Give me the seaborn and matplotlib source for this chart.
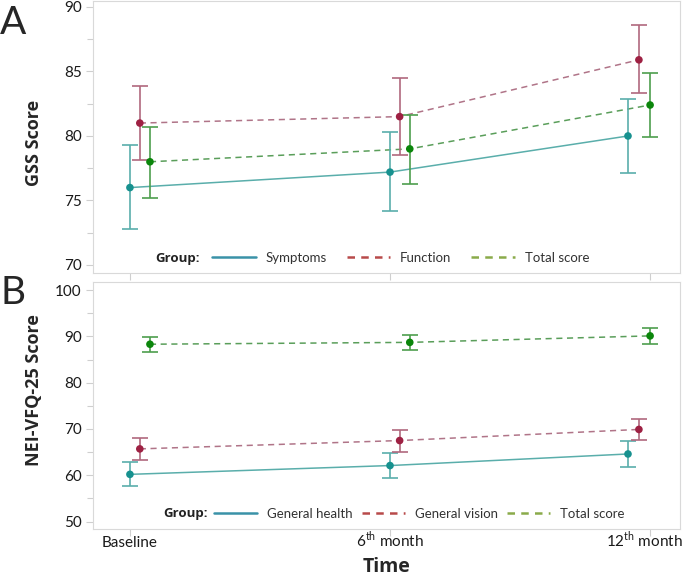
import numpy as np
import pandas as pd
import matplotlib
matplotlib.use("Agg")
import matplotlib.pyplot as plt
import matplotlib.transforms as mtransforms
import seaborn as sns
from matplotlib.lines import Line2D
from matplotlib.ticker import MultipleLocator

sns.set_style("white")
plt.rcParams['font.family'] = ['Lato', 'DejaVu Sans']
plt.rcParams['mathtext.fontset'] = 'custom'
plt.rcParams['mathtext.rm'] = 'Lato'

# 数据
times = ["Baseline", "6$^{\\mathrm{th}}$ month", "12$^{\\mathrm{th}}$ month"]

gss_groups = ["Symptoms", "Function", "Total score"]
gss_symptoms = [76.0, 77.2, 80.0]
gss_symptoms_lo = [72.8, 74.2, 77.1]
gss_symptoms_hi = [79.3, 80.3, 82.9]
gss_function = [81.0, 81.5, 85.9]
gss_function_lo = [78.1, 78.5, 83.3]
gss_function_hi = [83.9, 84.5, 88.6]
gss_total = [78.0, 79.0, 82.4]
gss_total_lo = [75.2, 76.3, 79.9]
gss_total_hi = [80.7, 81.6, 84.9]

nei_groups = ["General health", "General vision", "Total score"]
nei_health = [60.2, 62.1, 64.6]
nei_health_lo = [57.6, 59.5, 61.7]
nei_health_hi = [62.8, 64.9, 67.5]
nei_vision = [65.7, 67.5, 69.9]
nei_vision_lo = [63.4, 65.1, 67.6]
nei_vision_hi = [68.0, 69.8, 72.2]
nei_total = [88.3, 88.7, 90.1]
nei_total_lo = [86.7, 87.1, 88.4]
nei_total_hi = [89.9, 90.3, 91.8]

# 位置偏移 (每组在每个时间点)
offsets = [[0.0, 0.0, -0.085], [0.038, 0.037, -0.043], [0.077, 0.076, 0.0]]

marker_cols = ['#17918f', '#9e2143', '#0b860b']
line_cols = ['#5aaeab', '#b07488', '#5a9e5a']
err_cols = ['#5aaeab', '#b0687e', '#4e9e4e']
legend_cols = ['#3a92a8', '#b84a4a', '#8aab4a']
dash_styles = ['', (4, 3), (4, 3)]
bold_font = ['Open Sans', 'DejaVu Sans']


def make_df(groups, means, los, his):
    rows = []
    for g, (name, m, lo, hi) in enumerate(zip(groups, means, los, his)):
        for t in range(len(times)):
            rows.append({'group': name, 'x': t + offsets[g][t], 'mean': m[t], 'lo': lo[t], 'hi': hi[t]})
    return pd.DataFrame(rows)


df_a = make_df(gss_groups,
               [gss_symptoms, gss_function, gss_total],
               [gss_symptoms_lo, gss_function_lo, gss_total_lo],
               [gss_symptoms_hi, gss_function_hi, gss_total_hi])
df_b = make_df(nei_groups,
               [nei_health, nei_vision, nei_total],
               [nei_health_lo, nei_vision_lo, nei_total_lo],
               [nei_health_hi, nei_vision_hi, nei_total_hi])

fig = plt.figure(figsize=(6.85, 5.8), dpi=100)
ax_a = fig.add_axes([93 / 685, 1 - 273 / 580, 587 / 685, 272 / 580])
ax_b = fig.add_axes([93 / 685, 1 - 529 / 580, 587 / 685, 247.3 / 580])


def draw(ax, df, groups, ylim, major, minor, group_x, leg_x, leg_y, colsp):
    pal_line = dict(zip(groups, line_cols))
    pal_mark = dict(zip(groups, marker_cols))
    sns.lineplot(data=df, x='x', y='mean', hue='group', style='group', palette=pal_line,
                 dashes=dict(zip(groups, dash_styles)), estimator=None, sort=False,
                 linewidth=1.1, legend=False, ax=ax)
    for g, name in enumerate(groups):
        d = df[df['group'] == name]
        ax.errorbar(d['x'], d['mean'], yerr=[d['mean'] - d['lo'], d['hi'] - d['mean']],
                    fmt='none', ecolor=err_cols[g], elinewidth=1.2, capsize=5.5,
                    capthick=1.2, zorder=3)
    sns.scatterplot(data=df, x='x', y='mean', hue='group', palette=pal_mark, s=30,
                    linewidth=0, legend=False, zorder=4, ax=ax)
    ax.set_xlim(-0.142, 2.115)
    ax.set_ylim(*ylim)
    ax.set_xticks(range(len(times)))
    ax.yaxis.set_major_locator(MultipleLocator(major))
    ax.yaxis.set_minor_locator(MultipleLocator(minor))
    ax.tick_params(axis='both', which='both', direction='out', color='#cfcfcf',
                   length=4, width=0.8, labelsize=11, labelcolor='#1a1a1a', pad=3)
    ax.tick_params(axis='both', which='major', length=5)
    ax.tick_params(left=True, bottom=True, which='both')
    for sp in ax.spines.values():
        sp.set_color('#d9d9d9')
        sp.set_linewidth(0.8)
    ax.set_xlabel('')
    handles = [Line2D([], [], color=legend_cols[i], lw=1.8,
                      linestyle='-' if i == 0 else (0, (3, 2.5))) for i in range(3)]
    leg = ax.legend(handles, groups, loc='center left', bbox_to_anchor=(leg_x, leg_y),
                    ncol=3, frameon=False, fontsize=9.5, handlelength=3.3,
                    handletextpad=0.75, columnspacing=colsp, borderpad=0, borderaxespad=0)
    for t in leg.get_texts():
        t.set_color('#333333')
    ax.text(group_x, leg_y, 'Group:', transform=ax.transAxes, fontsize=9.5,
            fontweight='bold', va='center', ha='left', color='#222222', family=bold_font)


draw(ax_a, df_a, gss_groups, (69.38, 90.46), 5, 2.5, 0.106, 0.203, 0.055, 1.5)
draw(ax_b, df_b, nei_groups, (48.4, 101.8), 10, 5, 0.119, 0.206, 0.061, 0.65)

ax_a.set_xticklabels([])
ax_b.set_xticklabels(times)
ax_b.tick_params(axis='x', labelsize=11, pad=8)
for lab in ax_b.get_xticklabels():
    lab.set_verticalalignment('baseline')
# 最后一个刻度标签稍微左移, 防止被裁切
last = ax_b.get_xticklabels()[-1]
last.set_transform(last.get_transform() + mtransforms.ScaledTranslation(-4 / 72, 0, fig.dpi_scale_trans))

ax_a.set_ylabel('GSS Score', fontsize=13, fontweight='bold', family=bold_font)
ax_a.yaxis.set_label_coords(-0.085, 0.48)
ax_b.set_ylabel('NEI-VFQ-25 Score', fontsize=13, fontweight='bold', family=bold_font)
ax_b.yaxis.set_label_coords(-0.085, 0.56)

fig.text(387 / 685, 1 - 567 / 580, 'Time', fontsize=14, fontweight='bold',
         ha='center', va='center', family=bold_font)
fig.text(0.0, 1 - 5 / 580, 'A', fontsize=28, ha='left', va='top')
fig.text(0.0, 1 - 275 / 580, 'B', fontsize=28, ha='left', va='top')

fig.savefig('out.png', dpi=100)
